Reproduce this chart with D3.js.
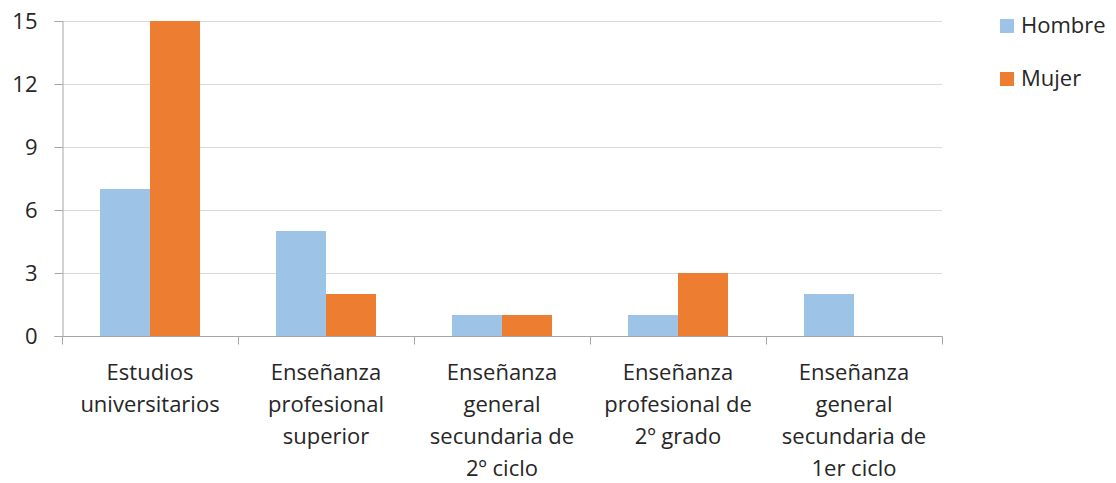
<!DOCTYPE html>
<html>
<head>
<meta charset="utf-8">
<script src="https://cdn.jsdelivr.net/npm/d3@7"></script>
<style>
  body { margin: 0; background: #fff; }
  text { font-family: "Open Sans", "Lato", sans-serif; fill: #262626; }
</style>
</head>
<body>
<svg id="chart" width="1116" height="483"></svg>
<script>
const categories = [
  ["Estudios", "universitarios"],
  ["Enseñanza", "profesional", "superior"],
  ["Enseñanza", "general", "secundaria de", "2º ciclo"],
  ["Enseñanza", "profesional de", "2º grado"],
  ["Enseñanza", "general", "secundaria de", "1er ciclo"],
]
const seriesNames = ["Hombre", "Mujer"]
const hombre = [7, 5, 1, 1, 2]
const mujer = [15, 2, 1, 3, 0]
const yTicks = [0, 3, 6, 9, 12, 15]
const colors = ["#9DC3E6", "#ED7D31"]

const FONT_SIZE = 22

const svg = d3.select("#chart")
const plotLeft = 62, plotRight = 942, plotTop = 21, plotBottom = 336

const x = d3.scaleBand().domain(d3.range(categories.length)).range([plotLeft, plotRight])
const inner = d3.scaleBand().domain(d3.range(2)).range([38, x.bandwidth() - 38])
const y = d3.scaleLinear().domain([0, 15]).range([plotBottom, plotTop])

// gridlines
svg.append("g")
  .selectAll("line")
  .data(yTicks.filter((d) => d > 0))
  .join("line")
  .attr("x1", plotLeft).attr("x2", plotRight)
  .attr("y1", (d) => y(d) + 0.5).attr("y2", (d) => y(d) + 0.5)
  .attr("stroke", "#d9d9d9")
  .attr("stroke-width", 1)

// bars
const values = [hombre, mujer]
values.forEach((vals, s) => {
  svg.append("g")
    .selectAll("rect")
    .data(vals)
    .join("rect")
    .attr("x", (d, i) => x(i) + inner(s))
    .attr("y", (d) => y(d))
    .attr("width", inner.bandwidth())
    .attr("height", (d) => plotBottom - y(d))
    .attr("fill", colors[s])
})

// y axis
const yAxis = svg.append("g")
  .attr("transform", `translate(${plotLeft + 0.5},0)`)
  .call(d3.axisLeft(y).tickValues(yTicks).tickSize(8).tickPadding(17))
yAxis.select(".domain").attr("stroke", "#a6a6a6")
yAxis.selectAll(".tick line").attr("stroke", "#a6a6a6")
yAxis.selectAll(".tick text").attr("font-size", FONT_SIZE).attr("fill", "#262626")
  .style("font-family", "'Open Sans', sans-serif")

// x axis
const xAxis = svg.append("g").attr("transform", `translate(0,${plotBottom + 0.5})`)
xAxis.append("line")
  .attr("x1", plotLeft).attr("x2", plotRight + 0.5)
  .attr("stroke", "#a6a6a6")
xAxis.selectAll(".xt")
  .data(d3.range(categories.length + 1))
  .join("line")
  .attr("class", "xt")
  .attr("x1", (i) => Math.round(plotLeft + i * x.bandwidth()) + 0.5)
  .attr("x2", (i) => Math.round(plotLeft + i * x.bandwidth()) + 0.5)
  .attr("y1", 0).attr("y2", 8)
  .attr("stroke", "#a6a6a6")

categories.forEach((lines, i) => {
  const t = svg.append("text")
    .attr("text-anchor", "middle")
    .attr("font-size", FONT_SIZE)
  lines.forEach((ln, j) => {
    t.append("tspan")
      .attr("x", x(i) + x.bandwidth() / 2)
      .attr("y", 380 + j * 32)
      .text(ln)
  })
})

// legend
const legend = svg.append("g")
seriesNames.forEach((name, s) => {
  const cy = 26 + s * 53
  legend.append("rect")
    .attr("x", 1000).attr("y", cy - 7)
    .attr("width", 14).attr("height", 14)
    .attr("fill", colors[s])
  legend.append("text")
    .attr("x", 1021).attr("y", cy + 7)
    .attr("font-size", FONT_SIZE)
    .text(name)
})
</script>
</body>
</html>
